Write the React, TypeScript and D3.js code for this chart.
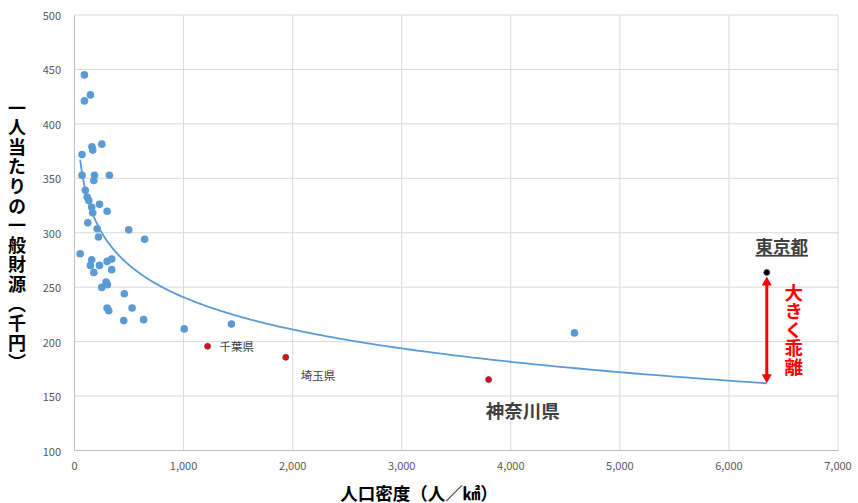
import React from "react";
import * as d3 from "d3";

// 都道府県別：人口密度（人/㎢）と一人当たりの一般財源（千円）
const otherDensity = [
	91, 146, 91, 160, 167, 250, 69, 69, 183, 177, 320, 99, 116, 131, 158, 229, 167, 299, 122, 208, 497, 220,
	643, 52, 158, 146, 229, 177, 299, 341, 341, 290, 302, 250, 457, 299, 314, 528, 451, 634, 1006, 1439, 4584,
];
const otherRevenue = [
	445, 426.6, 421.1, 378.9, 375.9, 381.4, 371.8, 352.8, 352.8, 348, 352.8, 339, 332.8, 329.6, 323.4, 326.1,
	318.3, 319.7, 309.2, 303.7, 302.8, 296.1, 294, 280.7, 275.2, 270, 270, 263.6, 273.7, 275.9, 266.1, 254.8,
	252.3, 249.8, 244, 230.9, 228.4, 230.9, 219.3, 220.2, 211.7, 216.1, 208,
];

const metroNames = ["千葉県", "埼玉県", "神奈川県"];
const metroDensity = [1220, 1937, 3797];
const metroRevenue = [195.7, 185.6, 165.1];

const tokyoName = "東京都";
const tokyoDensity = 6347;
const tokyoRevenue = 263.6;

const xTicks = [0, 1000, 2000, 3000, 4000, 5000, 6000, 7000];
const yTicks = [100, 150, 200, 250, 300, 350, 400, 450, 500];

const W = 858;
const H = 503;
const FONT = "'Noto Sans CJK JP', 'Noto Sans', sans-serif";

export default function App() {
	const x = d3.scaleLinear().domain([0, 7000]).range([74.5, 838]);
	const y = d3.scaleLinear().domain([100, 500]).range([450.5, 15]);

	// 対数近似曲線 (Excel の「対数」近似と同じ最小二乗)
	const allX = [...otherDensity, ...metroDensity, tokyoDensity];
	const allY = [...otherRevenue, ...metroRevenue, tokyoRevenue];
	const lx = allX.map((v) => Math.log(v));
	const mx = d3.mean(lx) as number;
	const my = d3.mean(allY) as number;
	const slope = d3.sum(lx, (v, i) => (v - mx) * (allY[i] - my)) / d3.sum(lx, (v) => (v - mx) * (v - mx));
	const icpt = my - slope * mx;
	const trend = (v: number) => icpt + slope * Math.log(v);
	const [xmin, xmax] = d3.extent(allX) as [number, number];
	const trendPts = d3.range(0, 201).map((i) => xmin * Math.pow(xmax / xmin, i / 200));
	const trendPath = d3
		.line<number>()
		.x((d) => x(d))
		.y((d) => y(trend(d)))(trendPts);

	const tx = x(tokyoDensity);
	const ty = y(tokyoRevenue);
	const arrowTop = ty + 4;
	const arrowBot = y(trend(tokyoDensity));

	return (
		<svg width={W} height={H} style={{ position: "absolute", left: 0, top: 0, background: "#fff" }} fontFamily={FONT}>
			{/* grid */}
			{yTicks.map((t) => (
				<line key={"gy" + t} x1={x(0)} x2={x(7000)} y1={y(t)} y2={y(t)} stroke="#d9d9d9" strokeWidth={1} />
			))}
			{xTicks.map((t) => (
				<line key={"gx" + t} x1={x(t)} x2={x(t)} y1={y(100)} y2={y(500)} stroke="#d9d9d9" strokeWidth={1} />
			))}
			<line x1={x(0)} x2={x(0)} y1={y(100)} y2={y(500)} stroke="#bfbfbf" />
			<line x1={x(0)} x2={x(7000)} y1={y(100)} y2={y(100)} stroke="#bfbfbf" />

			{/* tick labels */}
			{yTicks.map((t) => (
				<text key={"ly" + t} x={61} y={y(t)} textAnchor="end" dominantBaseline="central" fontSize={11} fill="#595959">
					{t}
				</text>
			))}
			{xTicks.map((t) => (
				<text key={"lx" + t} x={x(t)} y={464.5} textAnchor="middle" dominantBaseline="central" fontSize={11} fill="#595959">
					{d3.format(",")(t)}
				</text>
			))}

			{/* axis titles */}
			<text
				x={17}
				y={236}
				textAnchor="middle"
				fontSize={18}
				fontWeight="bold"
				fill="#000"
				letterSpacing={1.6}
				style={{ writingMode: "vertical-rl" }}
			>
				一人当たりの一般財源（千円）
			</text>
			<text x={419} y={492} textAnchor="middle" dominantBaseline="central" fontSize={17.5} fontWeight="bold" fill="#000">
				人口密度（人／㎢）
			</text>

			{/* trend line */}
			<path d={trendPath ?? ""} fill="none" stroke="#5b9bd5" strokeWidth={1.8} />

			{/* other prefectures */}
			{otherDensity.map((d, i) => (
				<circle key={"p" + i} cx={x(d)} cy={y(otherRevenue[i])} r={3.8} fill="#5b9bd5" />
			))}

			{/* metro prefectures */}
			{metroDensity.map((d, i) => (
				<circle key={"m" + i} cx={x(d)} cy={y(metroRevenue[i])} r={3} fill="#ff0000" stroke="#2f4f7f" strokeWidth={0.8} />
			))}
			<text x={x(metroDensity[0]) + 12} y={y(metroRevenue[0])} dominantBaseline="central" fontSize={11.5} fill="#404040">
				{metroNames[0]}
			</text>
			<text x={x(metroDensity[1]) + 15} y={y(metroRevenue[1]) + 18} dominantBaseline="central" fontSize={11.5} fill="#404040">
				{metroNames[1]}
			</text>
			<text
				x={x(metroDensity[2]) - 3}
				y={y(metroRevenue[2]) + 30}
				dominantBaseline="central"
				fontSize={18.5}
				fontWeight="bold"
				fill="#404040"
			>
				{metroNames[2]}
			</text>

			{/* Tokyo */}
			<circle cx={tx} cy={ty} r={3} fill="#000" stroke="#2f5597" strokeWidth={0.8} />
			<text
				x={tx + 15}
				y={ty - 27}
				textAnchor="middle"
				dominantBaseline="central"
				fontSize={17.5}
				fontWeight="bold"
				fill="#404040"
				textDecoration="underline"
			>
				{tokyoName}
			</text>

			{/* divergence arrow */}
			<line x1={tx} x2={tx} y1={arrowTop + 8} y2={arrowBot - 8} stroke="#ff0000" strokeWidth={3} />
			<path d={`M${tx},${arrowTop} L${tx - 5},${arrowTop + 9} L${tx + 5},${arrowTop + 9} Z`} fill="#ff0000" />
			<path d={`M${tx},${arrowBot} L${tx - 5},${arrowBot - 9} L${tx + 5},${arrowBot - 9} Z`} fill="#ff0000" />
			<text
				x={tx + 27}
				y={(arrowTop + arrowBot) / 2}
				textAnchor="middle"
				fontSize={18.5}
				fontWeight="bold"
				fill="#ff0000"
				style={{ writingMode: "vertical-rl" }}
			>
				大きく乖離
			</text>
		</svg>
	);
}
